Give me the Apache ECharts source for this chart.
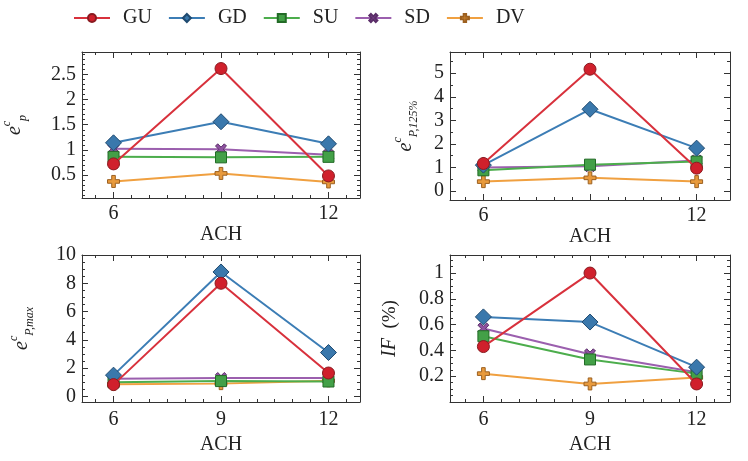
<!DOCTYPE html>
<html><head><meta charset="utf-8">
<script src="https://cdn.jsdelivr.net/npm/echarts@6/dist/echarts.min.js"></script>
<style>html,body{margin:0;padding:0;background:#fff}#c{width:748px;height:461px}</style>
</head><body><div id="c"></div>
<script>
// ---- data ----
const ach = [6, 9, 12];
const seriesNames = ['GU', 'GD', 'SU', 'SD', 'DV'];
// panel (a) e^c_p
const epGU = [0.72, 2.62, 0.48];
const epGD = [1.14, 1.56, 1.12];
const epSU = [0.86, 0.85, 0.86];
const epSD = [1.02, 1.01, 0.90];
const epDV = [0.37, 0.53, 0.36];
// panel (b) e^c_{P,125%}
const e125GU = [1.17, 5.17, 0.97];
const e125GD = [1.10, 3.47, 1.82];
const e125SU = [0.88, 1.12, 1.25];
const e125SD = [1.00, 1.05, 1.30];
const e125DV = [0.40, 0.56, 0.40];
// panel (c) e^c_{P,max}
const emaxGU = [0.83, 8.0, 1.65];
const emaxGD = [1.50, 8.8, 3.10];
const emaxSU = [1.00, 1.08, 1.05];
const emaxSD = [1.25, 1.30, 1.30];
const emaxDV = [0.85, 0.90, 1.10];
// panel (d) IF (%)
const ifGU = [0.43, 1.00, 0.14];
const ifGD = [0.66, 0.62, 0.27];
const ifSU = [0.51, 0.33, 0.22];
const ifSD = [0.57, 0.37, 0.23];
const ifDV = [0.22, 0.14, 0.19];
// tick labels
const xTicks = [6, 9, 12];
const xLabelsTop = [6, 12];
const xLabelsBottom = [6, 9, 12];
const yTicksA = [0.5, 1, 1.5, 2, 2.5];
const yTicksB = [0, 1, 2, 3, 4, 5];
const yTicksC = [0, 2, 4, 6, 8, 10];
const yTicksD = [0.2, 0.4, 0.6, 0.8, 1];

// ---- styles ----
const serif = 'Liberation Serif';
const ink = '#333';
const styles = {
  GU: { line: '#d8313c', fill: '#d0202c', border: '#8a1a20', symbol: 'circle', size: 12 },
  GD: { line: '#3c7db5', fill: '#3a78ac', border: '#1f4a70', symbol: 'diamond', size: 16 },
  SU: { line: '#4cad4c', fill: '#43a047', border: '#236b27', symbol: 'rect', size: 11 },
  SD: { line: '#9b5fae', fill: '#8e52a0', border: '#5a2d68',
        symbol: 'path://M2,0 L5,3 L8,0 L10,2 L7,5 L10,8 L8,10 L5,7 L2,10 L0,8 L3,5 L0,2 Z', size: 11 },
  DV: { line: '#f0a040', fill: '#e89a3c', border: '#9c6020',
        symbol: 'path://M3.5,0 H6.5 V3.5 H10 V6.5 H6.5 V10 H3.5 V6.5 H0 V3.5 H3.5 Z', size: 12 }
};

function steps(a, b, s, skip) {
  const out = [];
  for (let v = a; v <= b + 1e-9; v += s) {
    const r = Math.round(v * 1000) / 1000;
    if (!skip.some(k => Math.abs(k - r) < 1e-9)) out.push(r);
  }
  return out;
}

const panels = [
  { grid: { left: 82, top: 52, width: 278, height: 146 }, xr: [5.12, 12.88], yr: [0.04, 2.95],
    xl: xLabelsTop, yt: yTicksA, ym: 0.1, xGap: 24, xm: 6, yGap: 53,
    name: '{i|e}{sup|c}{sub|p}', data: [epGU, epGD, epSU, epSD, epDV] },
  { grid: { left: 450, top: 52, width: 280, height: 148 }, xr: [5.06, 12.94], yr: [-0.38, 5.9],
    xl: xLabelsTop, yt: yTicksB, ym: 0.5, xGap: 24, xm: 6, yGap: 30,
    name: '{i|e}{sup|c}{sub|P,125%}', data: [e125GU, e125GD, e125SU, e125SD, e125DV] },
  { grid: { left: 82, top: 255, width: 278, height: 147 }, xr: [5.12, 12.88], yr: [-0.4, 10],
    xl: xLabelsBottom, yt: yTicksC, ym: 0.5, xGap: 33, xm: 8, yGap: 46,
    name: '{i|e}{sup|c}{sub|P,max}', data: [emaxGU, emaxGD, emaxSU, emaxSD, emaxDV] },
  { grid: { left: 450, top: 255, width: 280, height: 147 }, xr: [5.06, 12.94], yr: [0, 1.14],
    xl: xLabelsBottom, yt: yTicksD, ym: 0.05, xGap: 33, xm: 8, yGap: 46,
    name: '{i|IF}{n|  (%)}', data: [ifGU, ifGD, ifSU, ifSD, ifDV] }
];

const grids = [], xAxes = [], yAxes = [], series = [];
const nameRich = {
  i: { fontFamily: serif, fontStyle: 'italic', fontSize: 20, lineHeight: 28, color: '#222' },
  sup: { fontFamily: serif, fontStyle: 'italic', fontSize: 12, lineHeight: 12, verticalAlign: 'top', color: '#222' },
  sub: { fontFamily: serif, fontStyle: 'italic', fontSize: 12, lineHeight: 12, verticalAlign: 'bottom', color: '#222' },
  n: { fontFamily: serif, fontSize: 19, lineHeight: 28, color: '#222' }
};

panels.forEach((p, g) => {
  grids.push(Object.assign({ containLabel: false }, p.grid));
  const minorX = steps(5.5, 12.5, 0.5, xTicks);
  const y0 = Math.ceil(p.yr[0] / p.ym) * p.ym;
  const minorY = steps(y0, p.yr[1], p.ym, p.yt);
  const base = (min, max) => ({ type: 'value', gridIndex: g, min, max, splitLine: { show: false } });
  const line = { show: true, onZero: false, lineStyle: { color: ink, width: 1 } };
  const noLine = { show: false, onZero: false };
  // x axes
  xAxes.push(Object.assign(base(p.xr[0], p.xr[1]), {
    position: 'bottom', axisLine: line,
    axisTick: { inside: true, length: 6, customValues: xTicks, lineStyle: { color: ink } },
    axisLabel: { customValues: p.xl, fontFamily: serif, fontSize: 20, color: '#222', margin: p.xm },
    name: 'ACH', nameLocation: 'middle', nameGap: p.xGap,
    nameTextStyle: { fontFamily: serif, fontSize: 20, color: '#222' }
  }));
  xAxes.push(Object.assign(base(p.xr[0], p.xr[1]), {
    position: 'bottom', axisLine: noLine,
    axisTick: { inside: true, length: 3, customValues: minorX, lineStyle: { color: ink } },
    axisLabel: { show: false }
  }));
  xAxes.push(Object.assign(base(p.xr[0], p.xr[1]), {
    position: 'top', axisLine: line,
    axisTick: { inside: true, length: 6, customValues: xTicks, lineStyle: { color: ink } },
    axisLabel: { show: false }
  }));
  xAxes.push(Object.assign(base(p.xr[0], p.xr[1]), {
    position: 'top', axisLine: noLine,
    axisTick: { inside: true, length: 3, customValues: minorX, lineStyle: { color: ink } },
    axisLabel: { show: false }
  }));
  // y axes
  yAxes.push(Object.assign(base(p.yr[0], p.yr[1]), {
    position: 'left', axisLine: line,
    axisTick: { inside: true, length: 6, customValues: p.yt, lineStyle: { color: ink } },
    axisLabel: { customValues: p.yt, fontFamily: serif, fontSize: 20, color: '#222', margin: 6 },
    name: p.name, nameLocation: 'middle', nameGap: p.yGap, nameRotate: 90,
    nameTextStyle: { rich: nameRich }
  }));
  yAxes.push(Object.assign(base(p.yr[0], p.yr[1]), {
    position: 'left', axisLine: noLine,
    axisTick: { inside: true, length: 3, customValues: minorY, lineStyle: { color: ink } },
    axisLabel: { show: false }
  }));
  yAxes.push(Object.assign(base(p.yr[0], p.yr[1]), {
    position: 'right', axisLine: line,
    axisTick: { inside: true, length: 6, customValues: p.yt, lineStyle: { color: ink } },
    axisLabel: { show: false }
  }));
  yAxes.push(Object.assign(base(p.yr[0], p.yr[1]), {
    position: 'right', axisLine: noLine,
    axisTick: { inside: true, length: 3, customValues: minorY, lineStyle: { color: ink } },
    axisLabel: { show: false }
  }));
  seriesNames.forEach((nm, k) => {
    const s = styles[nm];
    series.push({
      type: 'line', name: nm, xAxisIndex: 4 * g, yAxisIndex: 4 * g,
      data: ach.map((x, i) => [x, p.data[k][i]]),
      symbol: s.symbol, symbolSize: s.size,
      lineStyle: { color: s.line, width: 2 },
      itemStyle: { color: s.fill, borderColor: s.border, borderWidth: 1 },
      z: 2 + (4 - k)
    });
  });
});

const chart = echarts.init(document.getElementById('c'), null, { renderer: 'canvas' });
chart.setOption({
  animation: false,
  backgroundColor: '#fff',
  legend: {
    data: seriesNames, top: 3, left: 68, itemWidth: 36, itemHeight: 10, itemGap: 16,
    textStyle: { fontFamily: serif, fontSize: 20, color: '#222', padding: [0, 0, 0, 8] }
  },
  grid: grids, xAxis: xAxes, yAxis: yAxes, series
});
</script>
</body></html>
